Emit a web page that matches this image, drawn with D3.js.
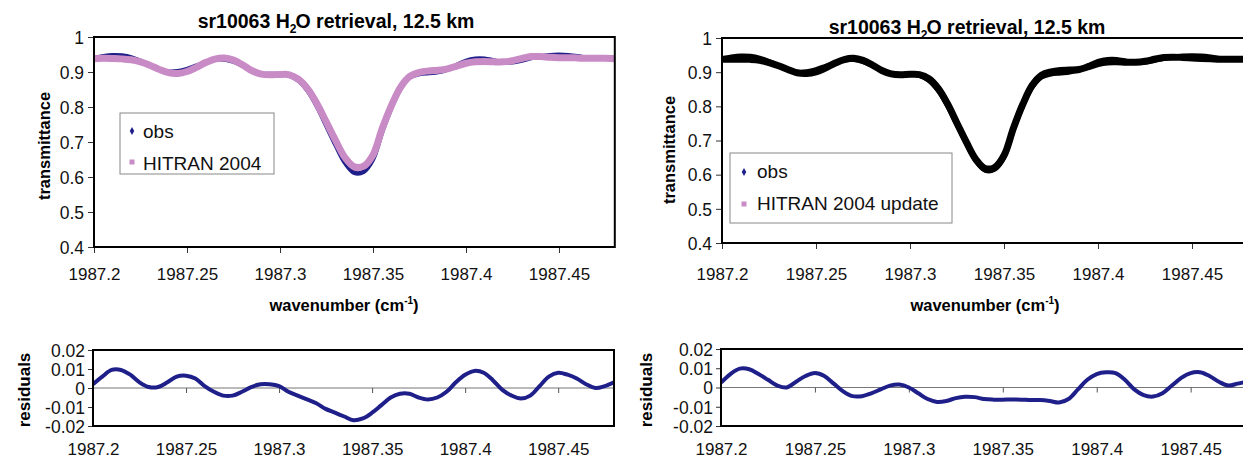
<!DOCTYPE html>
<html><head><meta charset="utf-8">
<script src="https://cdn.jsdelivr.net/npm/d3@7/dist/d3.min.js"></script>
<style>
body{margin:0;background:#fff;}
svg{display:block;font-family:"Liberation Sans",Arial,sans-serif;}
</style></head>
<body>
<svg id="chart" width="1243" height="460"></svg>
<script>
// ---------- data ----------
const wavenumber = [1987.200,1987.205,1987.210,1987.215,1987.220,1987.225,1987.230,1987.235,1987.240,1987.245,
  1987.250,1987.255,1987.260,1987.265,1987.270,1987.275,1987.280,1987.285,1987.290,1987.295,
  1987.300,1987.305,1987.310,1987.315,1987.320,1987.325,1987.330,1987.335,1987.340,1987.345,
  1987.350,1987.355,1987.360,1987.365,1987.370,1987.375,1987.380,1987.385,1987.390,1987.395,
  1987.400,1987.405,1987.410,1987.415,1987.420,1987.425,1987.430,1987.435,1987.440,1987.445,
  1987.450,1987.455,1987.460,1987.465,1987.470,1987.475,1987.480];

const obs = [0.940,0.945,0.948,0.947,0.942,0.932,0.920,0.908,0.901,0.902,
  0.908,0.918,0.928,0.935,0.936,0.930,0.918,0.904,0.896,0.894,
  0.894,0.890,0.875,0.845,0.800,0.745,0.690,0.640,0.612,0.615,
  0.650,0.730,0.800,0.855,0.885,0.894,0.897,0.900,0.907,0.920,
  0.932,0.938,0.938,0.933,0.928,0.928,0.933,0.940,0.945,0.948,
  0.949,0.948,0.945,0.941,0.939,0.940,0.941];

const hitran2004 = [0.938,0.939,0.9385,0.9375,0.935,0.929,0.9195,0.9075,0.898,0.896,
  0.9015,0.913,0.927,0.937,0.940,0.934,0.920,0.9035,0.894,0.892,
  0.893,0.892,0.879,0.851,0.808,0.756,0.703,0.655,0.629,0.631,
  0.663,0.739,0.805,0.858,0.888,0.899,0.903,0.905,0.909,0.917,
  0.925,0.929,0.930,0.929,0.929,0.932,0.9385,0.944,0.944,0.942,
  0.941,0.941,0.940,0.939,0.939,0.939,0.938];

const hitran2004Update = [0.9375,0.938,0.938,0.9375,0.935,0.928,0.919,0.908,0.898,0.896,
  0.9005,0.912,0.926,0.937,0.9405,0.9345,0.921,0.905,0.895,0.8925,
  0.894,0.893,0.881,0.8525,0.807,0.7505,0.695,0.645,0.618,0.621,
  0.656,0.736,0.806,0.8615,0.8915,0.901,0.905,0.906,0.908,0.916,
  0.925,0.930,0.9305,0.929,0.929,0.932,0.9377,0.943,0.944,0.943,
  0.9415,0.940,0.939,0.938,0.938,0.938,0.938];

const residuals2004 = [0.002,0.006,0.0095,0.0095,0.007,0.003,0.0005,0.0005,0.003,0.006,
  0.0065,0.005,0.001,-0.002,-0.004,-0.004,-0.002,0.0005,0.002,0.002,
  0.001,-0.002,-0.004,-0.006,-0.008,-0.011,-0.013,-0.015,-0.017,-0.016,
  -0.013,-0.009,-0.005,-0.003,-0.003,-0.005,-0.006,-0.005,-0.002,0.003,
  0.007,0.009,0.008,0.004,-0.001,-0.004,-0.0055,-0.004,0.001,0.006,
  0.008,0.007,0.005,0.002,0.0,0.001,0.003];

const residualsUpdate = [0.0025,0.007,0.0098,0.0095,0.007,0.004,0.001,0.0,0.003,0.006,
  0.0075,0.006,0.002,-0.002,-0.0045,-0.0045,-0.003,-0.001,0.001,0.0015,
  0.0,-0.003,-0.006,-0.0075,-0.007,-0.0055,-0.0048,-0.005,-0.006,-0.0063,
  -0.0063,-0.0062,-0.0063,-0.0065,-0.0065,-0.007,-0.0078,-0.006,-0.001,0.004,
  0.007,0.0079,0.0075,0.004,-0.001,-0.004,-0.0047,-0.003,0.001,0.005,
  0.0075,0.0079,0.006,0.003,0.001,0.002,0.003];

const xTicks = [1987.2,1987.25,1987.3,1987.35,1987.4,1987.45];
const yTicks = [0.4,0.5,0.6,0.7,0.8,0.9,1];
const resTicks = [-0.02,-0.01,0,0.01,0.02];
const titleMain = "sr10063 H";
const titleSub = "2";
const titleRest = "O retrieval, 12.5 km";
const legendLeft = ["obs","HITRAN 2004"];
const legendRight = ["obs","HITRAN 2004 update"];

// ---------- drawing ----------
const svg = d3.select("#chart");
const NAVY = "#1f1f8a", PINK = "#c98bc6";
const fmt = d => String(+d.toFixed(3));
const CURVE = d3.curveCatmullRom.alpha(0.5);

function xAxisLabels(g, baselineY, axisY){
  g.selectAll(".tick text").attr("y", baselineY - axisY).attr("dy", 0)
    .attr("font-size", 17).attr("fill","#111").attr("font-family","Liberation Sans, Arial");
}

function mainPanel(o){
  const x = d3.scaleLinear([1987.2,1987.48],[o.x0,o.x1]);
  const y = d3.scaleLinear([0.4,1],[o.y1,o.y0]);
  const g = svg.append("g");
  const clipId = "clip"+o.id;
  g.append("clipPath").attr("id",clipId).append("rect")
    .attr("x",o.x0).attr("y",o.y0).attr("width",o.x1-o.x0).attr("height",o.y1-o.y0);
  const ya = g.append("g").attr("transform",`translate(${o.x0},0)`)
    .call(d3.axisLeft(y).tickValues(yTicks).tickFormat(fmt).tickSize(6).tickPadding(4));
  ya.select(".domain").remove();
  ya.selectAll(".tick line").attr("stroke","#333");
  ya.selectAll(".tick text").attr("font-size",17.5).attr("fill","#111").attr("dy","0.36em");
  const xa = g.append("g").attr("transform",`translate(0,${o.y1})`)
    .call(d3.axisBottom(x).tickValues(xTicks).tickFormat(fmt).tickSize(6));
  xa.select(".domain").remove();
  xa.selectAll(".tick line").attr("stroke","#333");
  xAxisLabels(xa, 280, o.y1);
  const line = d3.line().x((d,i)=>x(wavenumber[i])).y(d=>y(d)).curve(CURVE);
  const lg = g.append("g").attr("clip-path",`url(#${clipId})`);
  lg.append("path").attr("d",line(obs)).attr("fill","none")
    .attr("stroke",o.obsColor).attr("stroke-width",4.5);
  lg.append("path").attr("d",line(o.model)).attr("fill","none")
    .attr("stroke",o.modelColor).attr("stroke-width",7);
  g.append("rect").attr("x",o.x0).attr("y",o.y0).attr("width",o.x1-o.x0).attr("height",o.y1-o.y0)
    .attr("fill","none").attr("stroke","#000").attr("stroke-width",2);
  const t = g.append("text").attr("x",o.titleX).attr("y",o.titleY).attr("text-anchor","middle")
    .attr("font-weight","bold").attr("font-size",19.5).attr("fill","#000");
  t.append("tspan").text(titleMain);
  t.append("tspan").attr("font-size",12).attr("dy",5).text(titleSub);
  t.append("tspan").attr("dy",-5).attr("dx",-1).text(titleRest);
  g.append("text").attr("transform",`translate(${o.ylabX},${o.ylabY}) rotate(-90)`)
    .attr("text-anchor","middle").attr("font-weight","bold").attr("font-size",16.5).text("transmittance");
  const xl = g.append("text").attr("x",o.xlabX).attr("y",311).attr("text-anchor","middle")
    .attr("font-weight","bold").attr("font-size",16.5);
  xl.append("tspan").text("wavenumber (cm");
  xl.append("tspan").attr("font-size",10).attr("dy",-7).text("-1");
  xl.append("tspan").attr("dy",7).text(")");
  const L = o.legend;
  g.append("rect").attr("x",L.x).attr("y",L.y).attr("width",L.w).attr("height",L.h)
    .attr("fill","#fff").attr("stroke","#888").attr("stroke-width",1);
  g.append("path").attr("d",d3.symbol(d3.symbolDiamond,18)())
    .attr("transform",`translate(${L.mx},${L.r1})`).attr("fill",NAVY);
  g.append("rect").attr("x",L.mx-2.5).attr("y",L.r2-2.5).attr("width",5).attr("height",5).attr("fill",PINK);
  g.append("text").attr("x",L.tx).attr("y",L.b1).attr("font-size",19).attr("fill","#111").text(L.labels[0]);
  g.append("text").attr("x",L.tx).attr("y",L.b2).attr("font-size",19).attr("fill","#111").text(L.labels[1]);
}

function resPanel(o){
  const x = d3.scaleLinear([1987.2,1987.48],[o.x0,o.x1]);
  const y = d3.scaleLinear([-0.02,0.02],[o.y1,o.y0]);
  const g = svg.append("g");
  const clipId = "rclip"+o.id;
  g.append("clipPath").attr("id",clipId).append("rect")
    .attr("x",o.x0).attr("y",o.y0).attr("width",o.x1-o.x0).attr("height",o.y1-o.y0);
  const ya = g.append("g").attr("transform",`translate(${o.x0},0)`)
    .call(d3.axisLeft(y).tickValues(resTicks).tickFormat(fmt).tickSize(5).tickPadding(3));
  ya.select(".domain").remove();
  ya.selectAll(".tick line").attr("stroke","#333");
  ya.selectAll(".tick text").attr("font-size",17.5).attr("fill","#111").attr("dy","0.36em");
  g.append("line").attr("x1",o.x0).attr("x2",o.x1).attr("y1",y(0)).attr("y2",y(0))
    .attr("stroke","#777").attr("stroke-width",1);
  const xa = g.append("g").attr("transform",`translate(0,${y(0)})`)
    .call(d3.axisBottom(x).tickValues(xTicks).tickFormat(fmt).tickSize(5));
  xa.select(".domain").remove();
  xa.selectAll(".tick line").attr("stroke","#555");
  xAxisLabels(xa, 455, y(0));
  const line = d3.line().x((d,i)=>x(wavenumber[i])).y(d=>y(d)).curve(CURVE);
  g.append("g").attr("clip-path",`url(#${clipId})`).append("path")
    .attr("d",line(o.res)).attr("fill","none").attr("stroke",NAVY).attr("stroke-width",4);
  g.append("rect").attr("x",o.x0).attr("y",o.y0).attr("width",o.x1-o.x0).attr("height",o.y1-o.y0)
    .attr("fill","none").attr("stroke","#000").attr("stroke-width",2);
  g.append("text").attr("transform",`translate(${o.ylabX},${o.ylabY}) rotate(-90)`)
    .attr("text-anchor","middle").attr("font-weight","bold").attr("font-size",17).text("residuals");
}

mainPanel({id:"L", x0:94, x1:614.8, y0:37, y1:247, model:hitran2004, obsColor:NAVY, modelColor:PINK,
  titleX:336, titleY:28, ylabX:50, ylabY:146, xlabX:344,
  legend:{x:120,y:113,w:154,h:61,mx:132,r1:131,r2:162,tx:143,b1:138,b2:170,labels:legendLeft}});
mainPanel({id:"R", x0:722, x1:1248.4, y0:38, y1:243, model:hitran2004Update, obsColor:"#000", modelColor:"#000",
  titleX:967, titleY:34, ylabX:675, ylabY:150, xlabX:985,
  legend:{x:730,y:153,w:222,h:70,mx:744,r1:172,r2:204,tx:757,b1:178,b2:210,labels:legendRight}});
resPanel({id:"L", x0:93, x1:614, y0:350, y1:426, res:residuals2004, ylabX:30, ylabY:390});
resPanel({id:"R", x0:721, x1:1247, y0:349, y1:426, res:residualsUpdate, ylabX:652, ylabY:390});
</script>
</body></html>
